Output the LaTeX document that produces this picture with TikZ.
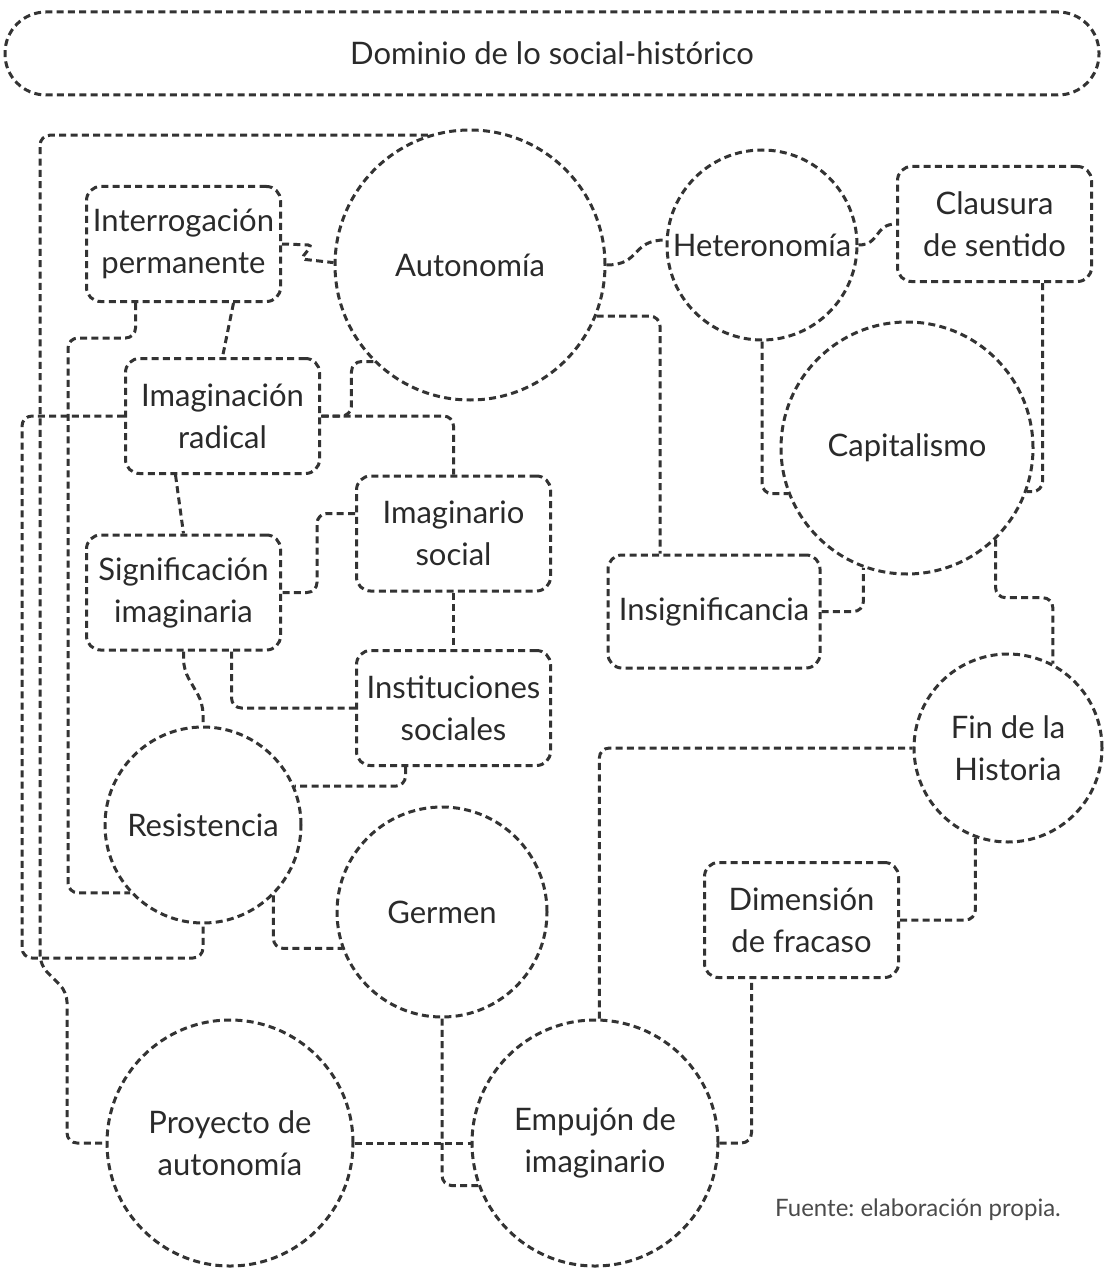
\documentclass[tikz,border=0pt]{standalone}
\usepackage{fontspec}
\setmainfont{Lato}
\usetikzlibrary{calc}
\definecolor{ink}{HTML}{2A2A2A}
\definecolor{edge}{HTML}{333333}
\definecolor{note}{HTML}{4A4A4A}
\frenchspacing

\begin{document}
\begin{tikzpicture}[x=1pt,y=-1pt,
  every node/.style={text=ink, font=\fontsize{31}{42}\selectfont, align=center},
  outline/.style={draw=edge, line width=3pt, dash pattern=on 7pt off 4.3pt},
  box/.style={outline, rounded corners=14pt, minimum width=194pt, minimum height=115pt, inner sep=0pt},
  disc/.style={outline, circle, inner sep=0pt},
  link/.style={draw=edge, line width=3pt, dash pattern=on 7pt off 4.3pt, rounded corners=10pt},
]
\useasboundingbox (0,0) rectangle (1104,1268);

% concepts
\node[box, minimum width=1094pt, minimum height=83pt, rounded corners=41pt] (DOM) at (552,53.5) {Dominio de lo social-histórico};
\node[box] (IP) at (183.5,244) {Interrogación\\permanente};
\node[disc, minimum size=270pt] (AU) at (470,265) {Autonomía};
\node[disc, minimum size=190pt] (HE) at (762,245) {Heteronomía};
\node[box] (CS) at (994.5,224) {Clausura\\de sentido};
\node[box] (IR) at (222.5,416) {Imaginación\\radical};
\node[disc, minimum size=252pt] (CA) at (907,448) {Capitalismo};
\node[box] (IS) at (453.5,533.5) {Imaginario\\social};
\node[box] (SI) at (183.5,592.5) {Significación\\imaginaria};
\node[box, minimum width=212pt, minimum height=113pt] (IN) at (714,611.5) {Insignificancia};
\node[box] (INS) at (453.5,708) {Instituciones\\sociales};
\node[disc, minimum size=188pt] (FH) at (1008,748) {Fin de la\\Historia};
\node[disc, minimum size=196pt] (RE) at (203,825) {Resistencia};
\node[disc, minimum size=210pt] (GE) at (442,912) {Germen};
\node[box] (DF) at (801.5,920) {Dimensión\\de fracaso};
\node[disc, minimum size=246pt] (PA) at (230,1143) {Proyecto de\\autonomía};
\node[disc, minimum size=246pt] (EI) at (595,1143) {Empujón de\\imaginario};
\node[font=\fontsize{24}{28}\selectfont, text=note] (SRC) at (918,1210) {Fuente: elaboración propia.};

% relations
\draw[link] (AU.108) -| (40,965) -- (67,992) |- (PA.west);
\draw[link, rounded corners=4pt] (IP.east) -- (312,245) -- (301,259) -- (AU.179);
\draw[link] ($(IP.south)+(50,0)$) -- (IR.north);
\draw[link] (AU.225) -- ++(-22,0) |- (IR.east);
\draw[link] (IR.east) -| (IS.north);
\draw[link] ($(IR.south)+(-47,0)$) -- (SI.north);
\draw[link] ($(IS.west)+(0,-20)$) -- ++(-38,0) |- (SI.east);
\draw[link] (IS.south) -- (INS.north);
\draw[link] (SI.south) -- ++(0,18) -- ($(RE.north)+(0,-22)$) -- (RE.north);
\draw[link] ($(SI.south)+(48,0)$) |- (INS.west);
\draw[link] ($(INS.south)+(-48,0)$) |- (RE.23);
\draw[link] (RE.-45) |- (GE.200);
\draw[link] (GE.south) |- (EI.200);
\draw[link] (PA.east) -- (EI.west);
\draw[link] (EI.88) |- (FH.west);
\draw[link] (EI.east) -| ($(DF.south)+(-50,0)$);
\draw[link] (DF.east) -| (FH.250);
\draw[link] (CA.-46) -- ++(0,58) -| (FH.62);
\draw[link] (IN.east) -| (CA.-110);
\draw[link] (AU.-22) -| ($(IN.north)+(-54,0)$);
\draw[link] (AU.east) .. controls +(35,0) and +(-35,0) .. (HE.177);
\draw[link] (HE.east) .. controls +(22,0) and +(-22,0) .. (CS.west);
\draw[link] (HE.south) |- (CA.201);
\draw[link] ($(CS.south)+(48,0)$) |- (CA.-20);
\draw[link] ($(IP.south)+(-48,0)$) |- (68,338) |- (RE.223);
\draw[link] (IR.west) -| (22,958) -| (RE.south);
\end{tikzpicture}
\end{document}
